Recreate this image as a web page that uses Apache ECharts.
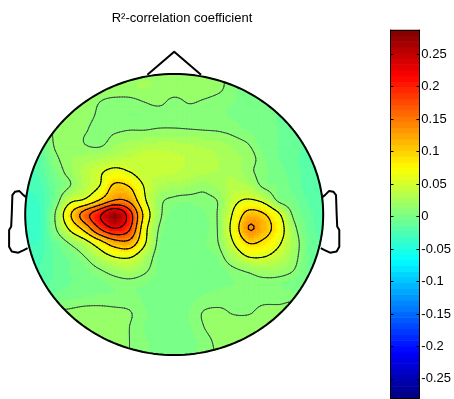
<!DOCTYPE html>
<html><head><meta charset="utf-8">
<script src="https://cdn.jsdelivr.net/npm/echarts@6/dist/echarts.min.js"></script>
<style>html,body{margin:0;padding:0;background:#fff}#c{width:454px;height:399px}</style>
</head><body><div id="c"></div>
<script>
// ---- data ----
const titleText = 'R\u00b2-correlation coefficient';
const xCoords = [-0.5,-0.45,-0.4,-0.35,-0.3,-0.25,-0.2,-0.15,-0.1,-0.05,0,0.05,0.1,0.15,0.2,0.25,0.3,0.35,0.4,0.45,0.5];
const yCoords = [0.5,0.45,0.4,0.35,0.3,0.25,0.2,0.15,0.1,0.05,0,-0.05,-0.1,-0.15,-0.2,-0.25,-0.3,-0.35,-0.4,-0.45,-0.5];
const fieldValues = [
 [0.015,0.015,0.015,0.015,0.016,0.017,0.018,0.019,0.02,0.02,0.02,0.02,0.018,0.014,0.008,0.004,0.002,0.0,0.0,0.0,0.0],
 [0.015,0.015,0.015,0.016,0.017,0.018,0.02,0.02,0.022,0.02,0.02,0.02,0.02,0.015,0.005,0.003,0.002,0.0,0.0,0.0,0.0],
 [0.015,0.015,0.015,0.016,0.016,0.012,0.008,0.008,0.012,0.015,0.008,0.013,0.01,0.006,0.004,0.002,0.0,-0.002,-0.003,-0.004,-0.005],
 [0.014,0.014,0.015,0.015,0.015,0.01,0.005,0.004,0.004,0.005,0.005,0.005,0.005,0.005,0.003,0.0,-0.003,-0.005,-0.006,-0.007,-0.008],
 [0.01,0.01,0.013,0.016,0.013,0.008,0.01,0.012,0.012,0.014,0.014,0.013,0.012,0.011,0.008,0.003,0.0,-0.005,-0.01,-0.012,-0.014],
 [-0.01,-0.01,0.014,0.02,0.012,0.009,0.02,0.025,0.03,0.032,0.032,0.03,0.028,0.025,0.018,0.012,0.0,-0.005,-0.01,-0.014,-0.018],
 [-0.02,-0.015,0.008,0.02,0.025,0.03,0.035,0.04,0.045,0.045,0.042,0.038,0.035,0.03,0.025,0.018,0.005,-0.005,-0.012,-0.018,-0.02],
 [-0.025,-0.02,0.002,0.018,0.035,0.05,0.065,0.055,0.04,0.042,0.04,0.035,0.032,0.03,0.028,0.016,0.006,0.0,-0.01,-0.018,-0.022],
 [-0.03,-0.025,-0.005,0.012,0.035,0.055,0.105,0.095,0.052,0.03,0.025,0.022,0.016,0.025,0.035,0.03,0.009,0.003,-0.008,-0.018,-0.022],
 [-0.035,-0.03,-0.002,0.045,0.06,0.1,0.14,0.13,0.06,0.018,0.008,0.006,0.008,0.014,0.045,0.058,0.045,0.008,-0.002,-0.015,-0.022],
 [-0.035,-0.03,0.012,0.09,0.16,0.215,0.27,0.2,0.085,0.018,0.0,0.0,0.003,0.015,0.06,0.112,0.1,0.06,0.008,-0.01,-0.02],
 [-0.035,-0.03,0.008,0.06,0.11,0.18,0.22,0.185,0.07,0.01,0.0,-0.002,0.002,0.015,0.07,0.139,0.115,0.075,0.02,-0.008,-0.018],
 [-0.032,-0.03,-0.008,0.015,0.04,0.08,0.12,0.125,0.06,0.005,0.0,0.0,0.003,0.013,0.055,0.098,0.088,0.06,0.025,-0.005,-0.015],
 [-0.03,-0.025,-0.012,-0.002,0.012,0.035,0.055,0.058,0.03,0.002,0.0,0.0,0.002,0.006,0.03,0.055,0.055,0.04,0.02,-0.005,-0.015],
 [-0.025,-0.022,-0.012,-0.005,0.002,0.01,0.02,0.025,0.015,0.003,0.0,0.0,0.0,0.002,0.008,0.015,0.022,0.02,0.012,-0.005,-0.012],
 [-0.02,-0.02,-0.01,-0.005,0.0,0.002,0.005,0.006,0.004,0.0,-0.002,0.0,0.002,0.003,0.004,0.006,0.006,0.005,0.0,-0.008,-0.015],
 [-0.01,-0.005,0.0,0.003,0.005,0.006,0.006,0.006,0.003,0.0,0.0,0.002,0.005,0.007,0.008,0.008,0.009,0.009,0.01,0.0,-0.005],
 [0.01,0.012,0.014,0.015,0.018,0.018,0.016,0.013,0.005,0.0,0.0,0.004,0.013,0.015,0.011,0.011,0.016,0.016,0.015,0.012,0.01],
 [0.015,0.015,0.016,0.018,0.02,0.02,0.018,0.012,0.004,0.0,0.0,0.003,0.012,0.02,0.02,0.02,0.018,0.016,0.015,0.015,0.015],
 [0.015,0.015,0.016,0.018,0.018,0.018,0.018,0.012,0.005,0.002,0.0,0.002,0.007,0.016,0.018,0.018,0.018,0.016,0.015,0.015,0.015],
 [0.015,0.015,0.016,0.016,0.016,0.015,0.014,0.012,0.005,0.002,0.0,0.002,0.006,0.014,0.016,0.016,0.016,0.015,0.015,0.015,0.015]
];
const contourLevels = [0.012,0.054,0.096,0.138,0.18,0.222];
const colorLimits = [-0.2794, 0.2872];
const colorbarTicks = [0.25,0.2,0.15,0.1,0.05,0,-0.05,-0.1,-0.15,-0.2,-0.25];
// head schematic (data units, head radius 0.5)
const noseX = [0.09, 0, -0.09];
const noseY = [0.497, 0.579, 0.497];
const earX = [0.497,0.506,0.52,0.534,0.543,0.545,0.547,0.554,0.554,0.545,0.523,0.503,0.492];
const earY = [0.062,0.069,0.084,0.081,0.069,0.005,-0.043,-0.055,-0.115,-0.132,-0.136,-0.126,-0.12];

// ---- helpers ----
const NC = 64;
function clamp01(v){return v<0?0:(v>1?1:v);}
function jetIndex(k){
  const t=(k+0.5)/NC;
  const r=clamp01(1.5-Math.abs(4*t-3)), g=clamp01(1.5-Math.abs(4*t-2)), b=clamp01(1.5-Math.abs(4*t-1));
  return 'rgb('+Math.round(r*255)+','+Math.round(g*255)+','+Math.round(b*255)+')';
}
function jetColor(v){
  const t=(v-colorLimits[0])/(colorLimits[1]-colorLimits[0]);
  let k=Math.floor(t*NC); if(k<0)k=0; if(k>NC-1)k=NC-1;
  return jetIndex(k);
}
const R2 = 0.25;
function inside(p){return p[0]*p[0]+p[1]*p[1]<=R2;}
function clipSeg(a,b){
  const ia=inside(a), ib=inside(b);
  if(ia&&ib) return [a,b];
  if(!ia&&!ib) return null;
  const dx=b[0]-a[0], dy=b[1]-a[1];
  const A=dx*dx+dy*dy, B=2*(a[0]*dx+a[1]*dy), C=a[0]*a[0]+a[1]*a[1]-R2;
  const disc=Math.sqrt(Math.max(0,B*B-4*A*C));
  let t = ia ? (-B+disc)/(2*A) : (-B-disc)/(2*A);
  t=Math.max(0,Math.min(1,t));
  const p=[a[0]+dx*t,a[1]+dy*t];
  return ia?[a,p]:[p,b];
}
const NR=yCoords.length, NCOL=xCoords.length;
function gv(r,c){ r=Math.max(0,Math.min(NR-1,r)); c=Math.max(0,Math.min(NCOL-1,c)); return fieldValues[r][c]; }
function crw(t){ const t2=t*t,t3=t2*t; return [(-t3+2*t2-t)/2,(3*t3-5*t2+2)/2,(-3*t3+4*t2+t)/2,(t3-t2)/2]; }
// smooth surface sample inside cell (r,c) at local (u along x, q along y)
function sample(r,c,u,q){
  const wu=crw(u), wq=crw(q); let s=0;
  for(let a=0;a<4;a++){ let row=0; for(let b=0;b<4;b++) row+=wu[b]*gv(r-1+a,c-1+b); s+=wq[a]*row; }
  return s;
}
const SUB=6;
function cellNodes(r,c){
  const n=[]; for(let i=0;i<=SUB;i++){ const row=[]; for(let j=0;j<=SUB;j++) row.push(sample(r,c,j/SUB,i/SUB)); n.push(row);} return n;
}

const cells=[];
for(let r=0;r<NR-1;r++) for(let c=0;c<NCOL-1;c++) cells.push([c,r]);
const bands=[]; for(let i=0;i<NC;i++) bands.push([0,i]);

function renderShade(params, api){
  const c=api.value(0), r=api.value(1);
  const x0=xCoords[c], x1=xCoords[c+1], y0=yCoords[r], y1=yCoords[r+1];
  const p0=api.coord([x0,y0]), p1=api.coord([x1,y1]);
  const w=(p1[0]-p0[0])/SUB, h=(p1[1]-p0[1])/SUB;
  const children=[];
  for(let i=0;i<SUB;i++){
    for(let j=0;j<SUB;j++){
      const u=(j+0.5)/SUB, q=(i+0.5)/SUB;
      const dx=x0+(x1-x0)*u, dy=y0+(y1-y0)*q;
      if(dx*dx+dy*dy>0.2512) continue;
      children.push({type:'rect',silent:true,
        shape:{x:p0[0]+w*j,y:p0[1]+h*i,width:w+0.6,height:h+0.6},
        style:{fill:jetColor(sample(r,c,u,q))}});
    }
  }
  return {type:'group',children:children};
}

function renderContour(params, api){
  const c=api.value(0), r=api.value(1);
  const x0=xCoords[c], x1=xCoords[c+1], y0=yCoords[r], y1=yCoords[r+1];
  const nodes=cellNodes(r,c);
  const children=[];
  function P(i,j){return [x0+(x1-x0)*j/SUB, y0+(y1-y0)*i/SUB];}
  contourLevels.forEach(function(L,li){
    const style={stroke: li===0?'#3c4b3c':'#000', lineWidth:li===0?1.0:1.1, lineCap:'round'};
    for(let i=0;i<SUB;i++) for(let j=0;j<SUB;j++){
      const v00=nodes[i][j], v01=nodes[i][j+1], v10=nodes[i+1][j], v11=nodes[i+1][j+1];
      function edge(va,vb,pa,pb){
        if((va>=L)!==(vb>=L)){ const t=(L-va)/(vb-va); return [pa[0]+(pb[0]-pa[0])*t, pa[1]+(pb[1]-pa[1])*t]; }
        return null;
      }
      const a00=P(i,j),a01=P(i,j+1),a10=P(i+1,j),a11=P(i+1,j+1);
      const top=edge(v00,v01,a00,a01), right=edge(v01,v11,a01,a11), bottom=edge(v11,v10,a11,a10), left=edge(v10,v00,a10,a00);
      const list=[top,right,bottom,left].filter(function(p){return p;});
      const segs=[];
      if(list.length===2) segs.push([list[0],list[1]]);
      else if(list.length===4){
        const center=(v00+v01+v10+v11)/4;
        if((center>=L)===(v00>=L)){segs.push([top,right]);segs.push([bottom,left]);}
        else {segs.push([top,left]);segs.push([right,bottom]);}
      }
      segs.forEach(function(s){
        const cs=clipSeg(s[0],s[1]); if(!cs) return;
        const a=api.coord(cs[0]), b=api.coord(cs[1]);
        children.push({type:'line',silent:true,shape:{x1:a[0],y1:a[1],x2:b[0],y2:b[1]},style:style});
      });
    }
  });
  return {type:'group',children:children};
}

function renderHead(params, api){
  const ring=[], mask=[];
  for(let k=0;k<=180;k++){
    const a=k/180*Math.PI*2;
    ring.push(api.coord([0.5*Math.cos(a),0.5*Math.sin(a)]));
    mask.push(api.coord([0.511*Math.cos(a),0.511*Math.sin(a)]));
  }
  const nose=noseX.map(function(x,i){return api.coord([x,noseY[i]]);});
  const earR=earX.map(function(x,i){return api.coord([x,earY[i]]);});
  const earL=earX.map(function(x,i){return api.coord([-x,earY[i]]);});
  const ls={stroke:'#000',lineWidth:2,fill:null,lineJoin:'round'};
  return {type:'group',children:[
    {type:'polyline',silent:true,shape:{points:mask},style:{stroke:'#fff',lineWidth:4,fill:null}},
    {type:'polyline',silent:true,shape:{points:ring},style:ls},
    {type:'polyline',silent:true,shape:{points:nose},style:ls},
    {type:'polyline',silent:true,shape:{points:earR},style:ls},
    {type:'polyline',silent:true,shape:{points:earL},style:ls}
  ]};
}

function renderBand(params, api){
  const i=api.value(1);
  const lo=colorLimits[0]+(colorLimits[1]-colorLimits[0])*i/NC;
  const hi=colorLimits[0]+(colorLimits[1]-colorLimits[0])*(i+1)/NC;
  const a=api.coord([0,hi]), b=api.coord([1,lo]);
  return {type:'rect',silent:true,shape:{x:a[0],y:a[1]-0.3,width:b[0]-a[0],height:b[1]-a[1]+0.6},style:{fill:jetIndex(i)}};
}

const FONT='"Liberation Sans", Arial, Helvetica, sans-serif';
const cbAxisLine={show:true,onZero:false,lineStyle:{color:'#000',width:1}};
const option={
  animation:false,
  backgroundColor:'#fff',
  title:{text:titleText,left:177,top:7,textAlign:'center',
    textStyle:{fontSize:13,fontWeight:'normal',color:'#000',fontFamily:FONT}},
  grid:[
    {left:1.36,top:45.9,width:345.68,height:337.2,show:false},
    {left:390.5,top:30,width:30,height:368,show:false}
  ],
  xAxis:[
    {gridIndex:0,type:'value',min:-0.58,max:0.58,show:false},
    {gridIndex:1,type:'value',min:0,max:1,position:'bottom',z:10,axisLine:cbAxisLine,axisTick:{show:false},axisLabel:{show:false},splitLine:{show:false}},
    {gridIndex:1,type:'value',min:0,max:1,position:'top',z:10,axisLine:cbAxisLine,axisTick:{show:false},axisLabel:{show:false},splitLine:{show:false}}
  ],
  yAxis:[
    {gridIndex:0,type:'value',min:-0.6,max:0.6,show:false},
    {gridIndex:1,type:'value',min:colorLimits[0],max:colorLimits[1],position:'right',z:10,
      axisLine:cbAxisLine,
      axisTick:{show:true,inside:true,length:3,customValues:colorbarTicks,lineStyle:{color:'#000'}},
      axisLabel:{show:true,customValues:colorbarTicks,margin:2,color:'#000',fontSize:13,fontFamily:FONT,
        formatter:function(v){return String(v);}},
      splitLine:{show:false}},
    {gridIndex:1,type:'value',min:colorLimits[0],max:colorLimits[1],position:'left',z:10,
      axisLine:cbAxisLine,
      axisTick:{show:true,inside:true,length:3,customValues:colorbarTicks,lineStyle:{color:'#000'}},
      axisLabel:{show:false},splitLine:{show:false}}
  ],
  series:[
    {type:'custom',name:'field',coordinateSystem:'cartesian2d',xAxisIndex:0,yAxisIndex:0,clip:false,z:2,
      data:cells,renderItem:renderShade},
    {type:'custom',name:'contours',coordinateSystem:'cartesian2d',xAxisIndex:0,yAxisIndex:0,clip:false,z:3,
      data:cells,renderItem:renderContour},
    {type:'custom',name:'head',coordinateSystem:'cartesian2d',xAxisIndex:0,yAxisIndex:0,clip:false,z:4,
      data:[[0,0]],renderItem:renderHead},
    {type:'custom',name:'colorbar',coordinateSystem:'cartesian2d',xAxisIndex:1,yAxisIndex:1,clip:false,z:2,
      data:bands,renderItem:renderBand}
  ]
};
const chart=echarts.init(document.getElementById('c'),null,{renderer:'canvas',width:454,height:399});
chart.setOption(option);
</script>
</body></html>
